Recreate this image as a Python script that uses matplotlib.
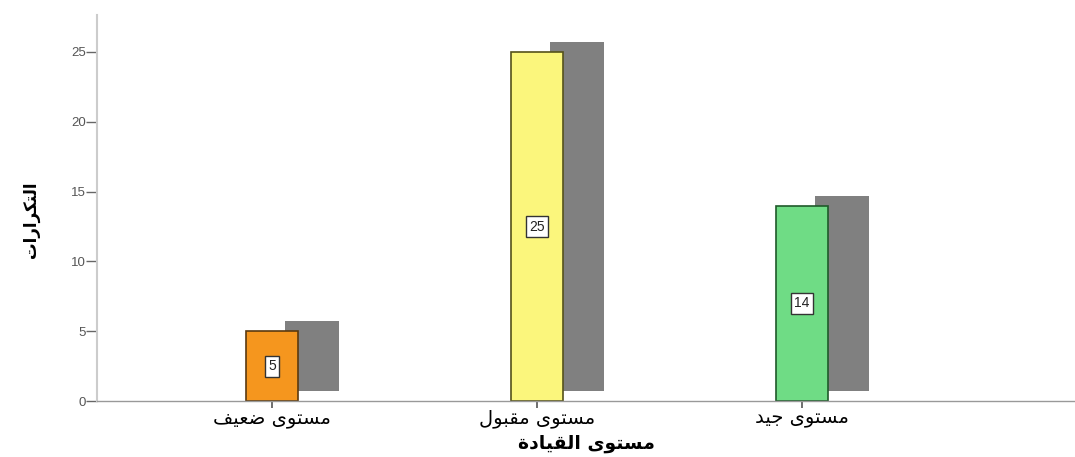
import matplotlib
matplotlib.use("Agg")
import matplotlib.pyplot as plt
import matplotlib.transforms as mtransforms

# ---- data ----
categories = ["مستوى ضعيف", "مستوى مقبول", "مستوى جيد"]
counts = [5, 25, 14]
bar_colors = ["#F5961E", "#FBF67C", "#6FDC85"]
edge_colors = ["#5a3a10", "#55521a", "#1f5a2a"]
x_title = "مستوى القيادة"
y_title = "التكرارات"
y_ticks = [0, 5, 10, 15, 20, 25]

# ---- minimal Arabic shaping (presentation forms, visual order) ----
FORMS = {
    "\u0627": ("\uFE8D", "\uFE8E", None, None),
    "\u0628": ("\uFE8F", "\uFE90", "\uFE91", "\uFE92"),
    "\u0629": ("\uFE93", "\uFE94", None, None),
    "\u062A": ("\uFE95", "\uFE96", "\uFE97", "\uFE98"),
    "\u062C": ("\uFE9D", "\uFE9E", "\uFE9F", "\uFEA0"),
    "\u062F": ("\uFEA9", "\uFEAA", None, None),
    "\u0631": ("\uFEAD", "\uFEAE", None, None),
    "\u0633": ("\uFEB1", "\uFEB2", "\uFEB3", "\uFEB4"),
    "\u0636": ("\uFEBD", "\uFEBE", "\uFEBF", "\uFEC0"),
    "\u0639": ("\uFEC9", "\uFECA", "\uFECB", "\uFECC"),
    "\u0641": ("\uFED1", "\uFED2", "\uFED3", "\uFED4"),
    "\u0642": ("\uFED5", "\uFED6", "\uFED7", "\uFED8"),
    "\u0643": ("\uFED9", "\uFEDA", "\uFEDB", "\uFEDC"),
    "\u0644": ("\uFEDD", "\uFEDE", "\uFEDF", "\uFEE0"),
    "\u0645": ("\uFEE1", "\uFEE2", "\uFEE3", "\uFEE4"),
    "\u0648": ("\uFEED", "\uFEEE", None, None),
    "\u0649": ("\uFEEF", "\uFEF0", None, None),
    "\u064A": ("\uFEF1", "\uFEF2", "\uFEF3", "\uFEF4"),
}


def joins_next(ch):
    f = FORMS.get(ch)
    return f is not None and f[2] is not None


def shape(text):
    out = []
    n = len(text)
    for i, ch in enumerate(text):
        f = FORMS.get(ch)
        if f is None:
            out.append(ch)
            continue
        prev_join = i > 0 and joins_next(text[i - 1])
        next_join = i + 1 < n and text[i + 1] in FORMS and f[2] is not None
        if prev_join and next_join:
            out.append(f[3])
        elif prev_join:
            out.append(f[1])
        elif next_join:
            out.append(f[2])
        else:
            out.append(f[0])
    return "".join(reversed(out))


plt.rcParams["font.family"] = ["Liberation Sans", "DejaVu Sans"]

fig = plt.figure(figsize=(10.75, 4.57), dpi=100)
ax = fig.add_axes([0.0902, 0.1225, 0.9098, 0.8447])

x = list(range(len(categories)))
width = 0.197

# drop shadows: same bars shifted right/up in screen space
shadow_tr = mtransforms.offset_copy(ax.transData, fig=fig, x=40, y=10, units="dots")
ax.bar(x, counts, width=width * 1.04, color="#808080", edgecolor="none",
       transform=shadow_tr, zorder=1)

ax.bar(x, counts, width=width, color=bar_colors, edgecolor=edge_colors,
       linewidth=1.2, zorder=2)

for xi, v in zip(x, counts):
    ax.text(xi, v / 2, str(v), ha="center", va="center", fontsize=10,
            color="#222222", zorder=3,
            bbox=dict(boxstyle="square,pad=0.25", facecolor="white",
                      edgecolor="#333333", linewidth=1.0))

ax.set_xlim(-0.66, 3.03)
ax.set_ylim(0, 27.65)
ax.set_yticks(y_ticks)
ax.set_xticks(x)
ax.set_xticklabels([shape(c) for c in categories], fontsize=14,
                   family=["DejaVu Sans"])

ax.tick_params(axis="y", length=8, width=1, color="#666666",
               labelsize=9.5, labelcolor="#555555", pad=0)
ax.tick_params(axis="x", length=5, width=1.2, color="#555555", pad=1)

for s in ["top", "right"]:
    ax.spines[s].set_visible(False)
ax.spines["left"].set_color("#cccccc")
ax.spines["left"].set_linewidth(1.5)
ax.spines["bottom"].set_color("#999999")
ax.spines["bottom"].set_linewidth(1.0)

ax.set_xlabel(shape(x_title), fontsize=13.5, fontweight="bold",
              family=["DejaVu Sans"], labelpad=4)
ax.set_ylabel(shape(y_title), fontsize=12, fontweight="bold",
              family=["DejaVu Sans"])
ax.yaxis.set_label_coords(-0.058, 0.47)

fig.savefig("out.png", dpi=100)
